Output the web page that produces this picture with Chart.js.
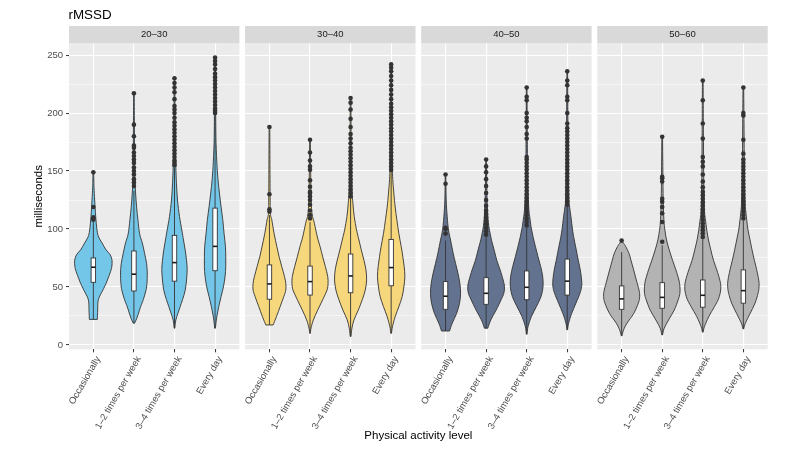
<!DOCTYPE html>
<html>
<head>
<meta charset="utf-8">
<script src="https://cdn.jsdelivr.net/npm/chart.js@4"></script>
<style>
  html, body { margin: 0; padding: 0; background: #fff; }
  #wrap { width: 799px; height: 454px; }
</style>
</head>
<body>
<div id="wrap"><canvas id="rmssdChart" width="799" height="454"></canvas></div>
<script>
// facets and categories
var ageGroups = ['20–30', '30–40', '40–50', '50–60'];
var activityLevels = ['Occasionally', '1–2 times per week', '3–4 times per week', 'Every day'];

// box plot stats per age group, one value per activity level
var lowerWhisker = [[22, 18.7, 14.4, 14.4], [17.2, 10, 7.2, 10], [12, 14.4, 9.2, 13], [7.8, 8.6, 11, 13.8]];
var quartile1 = [[54, 46.5, 55, 64], [39.4, 43, 45, 51], [30.7, 35, 39, 43], [30.7, 31.6, 32.5, 36]];
var medians = [[67, 61, 71, 85], [52.6, 54.6, 59.5, 66.7], [42, 44.5, 49.7, 55], [39.7, 41, 42.8, 46.8]];
var quartile3 = [[75, 81, 94.5, 118], [69, 68, 78.4, 91], [54.6, 58, 63.8, 74], [50.9, 53.7, 56, 64.7]];
var upperWhisker = [[106, 133, 153, 199], [112, 106, 127, 150], [90, 93, 101, 120], [80, 86, 91, 107]];

// outliers (milliseconds)
var outliers = [
  [
    [108, 109, 110, 119, 149],
    [137, 140, 143, 147, 150, 153, 157, 160, 163, 166, 170, 172, 180, 190, 217],
    [155, 157, 159, 162, 165, 168, 171, 174, 177, 180, 183, 186, 189, 192, 196, 200, 203, 206, 212, 218, 222, 226, 230],
    [200, 202, 204, 207, 210, 213, 216, 219, 222, 225, 228, 231, 234, 238, 242, 245, 248]
  ],
  [
    [115, 117, 130, 188],
    [109, 112, 116, 121, 125, 128, 131, 132, 136.5, 142, 151, 154, 159, 166, 177],
    [128, 131, 134, 137, 140, 143, 146, 149, 152, 155, 158, 161, 164, 167, 170, 174, 178, 182, 188, 195, 203, 209, 213],
    [151, 154, 157, 160, 163, 166, 169, 172, 175, 178, 181, 184, 187, 190, 193, 196, 199, 202, 205, 208, 212, 216, 220, 224, 228, 232, 236, 239, 242]
  ],
  [
    [96, 100, 101, 139, 147],
    [95, 98, 101, 104, 107, 110, 113, 116, 120, 125, 131, 137, 143, 149, 154, 160],
    [103, 106, 109, 112, 115, 118, 121, 124, 127, 130, 133, 136, 139, 142, 145, 148, 151, 154, 157, 160, 162, 178, 182, 188, 193, 196, 200, 211, 214, 222],
    [121, 124, 127, 130, 133, 136, 139, 142, 145, 148, 151, 154, 157, 160, 163, 166, 169, 172, 175, 178, 181, 184, 187, 191, 200, 211, 214, 224, 228, 236]
  ],
  [
    [90],
    [89, 106, 113.5, 119, 123.6, 126, 141, 143.7, 145, 179.6],
    [93, 96, 99, 102, 105, 108, 111, 114, 117, 120, 123, 126, 129, 132, 136, 141, 147, 154, 158, 162, 178, 191, 211, 228],
    [109, 112, 115, 118, 121, 124, 127, 130, 133, 136, 139, 142, 145, 148, 151, 154, 157, 160, 165, 177, 198, 200, 222]
  ]
];

// violin density profiles: [milliseconds, relative density]
var densities = [
  [
    [[22, 12], [30, 13], [39, 15], [47, 28], [53, 38], [62, 50], [67, 55], [73, 56], [78, 50], [82, 38], [88, 26], [93, 16], [99, 11], [111, 7], [125, 4], [136, 2], [149, 1]],
    [[18.7, 2], [24, 10], [33, 20], [39, 28], [47, 36], [53, 39], [62, 40], [70, 38], [79, 32], [88, 25], [96, 17], [108, 12], [119, 8], [131, 5], [142, 3], [160, 2], [217, 1]],
    [[14.4, 1], [21.5, 4], [27, 10], [33, 17], [39, 24], [47, 32], [56, 36], [65, 38], [73, 36], [82, 32], [90.5, 27], [99, 22], [110.6, 15], [125, 9], [139, 6], [154, 4], [180, 2], [230, 1]],
    [[14.4, 1], [24, 5], [33, 11], [41.7, 18], [50, 25], [59, 30], [67.5, 32], [76, 32], [85, 31], [96, 27], [108, 23], [119, 18], [131, 13], [142, 9], [154, 6], [174, 3], [197, 2], [248, 1]]
  ],
  [
    [[17.2, 11], [24.4, 21], [33, 32], [41.7, 43], [47.4, 49], [53, 49], [59, 45], [67.5, 37], [76, 29], [85, 22], [96, 14], [108, 7], [113.5, 3], [130, 2], [188, 1]],
    [[10, 1], [14.4, 3], [21.5, 10], [30, 23], [39, 38], [47.4, 51], [53, 54], [59, 53], [67.5, 46], [76, 38], [85, 30], [93, 22], [105, 13], [113.5, 6], [130, 3], [177, 1]],
    [[7.2, 1], [14.4, 4], [21.5, 10], [30, 23], [39, 35], [47.4, 44], [56, 48], [64.7, 46], [73, 40], [82, 32], [90.5, 25], [99, 18], [110.6, 11], [122, 7], [135, 4], [160, 2], [213, 1]],
    [[10, 1], [15.8, 4], [24.4, 12], [33, 23], [41.7, 33], [50, 38], [59, 41], [67.5, 39], [76, 35], [85, 30], [96, 23], [108, 17], [119, 12], [131, 8], [148, 4], [180, 2], [242, 1]]
  ],
  [
    [[12, 12], [18.7, 20], [27, 33], [36, 42], [44.5, 45], [53, 43], [62, 37], [70.4, 30], [79, 23], [90.5, 15], [99, 9], [110.6, 5], [125, 2], [147, 1]],
    [[14.4, 5], [21.5, 14], [30, 30], [39, 45], [44.5, 53], [50.3, 55], [56, 51], [64.7, 42], [73, 32], [82, 24], [90.5, 16], [99, 10], [108, 6], [125, 3], [160, 1]],
    [[9.2, 1], [15.8, 4], [24.4, 14], [33, 29], [41.7, 43], [50.3, 49], [59, 48], [67.5, 42], [76, 34], [85, 26], [93.4, 19], [102, 13], [110.6, 9], [119, 6], [140, 3], [170, 2], [222, 1]],
    [[13, 1], [18.7, 4], [27, 13], [36, 26], [44.5, 38], [50.3, 43], [56, 43], [64.7, 39], [73, 33], [82, 27], [90.5, 21], [99, 16], [110.6, 11], [119, 7], [125, 5], [150, 3], [190, 2], [236, 1]]
  ],
  [
    [[7.8, 1], [13, 6], [18.7, 16], [27, 36], [36, 50], [41.7, 54], [47.4, 52], [56, 44], [64.7, 36], [73, 28], [79, 22], [85, 12], [88, 5], [90, 1]],
    [[8.6, 1], [14.4, 6], [21.5, 19], [30, 36], [39, 48], [44.5, 53], [50.3, 53], [56, 50], [64.7, 41], [73, 31], [82, 21], [90.5, 13], [99, 8], [108, 5], [125, 3], [150, 2], [180, 1]],
    [[11, 1], [15.8, 5], [24.4, 18], [33, 35], [39, 46], [44.5, 52], [50.3, 54], [56, 51], [64.7, 42], [73, 32], [82, 24], [90.5, 17], [99, 12], [108, 8], [116, 5], [140, 3], [180, 2], [228, 1]],
    [[13.8, 1], [18.7, 6], [27, 20], [36, 35], [44.5, 44], [50.3, 47], [56, 46], [64.7, 40], [73, 33], [82, 26], [90.5, 20], [99, 14], [108, 10], [116, 7], [125, 5], [150, 3], [190, 2], [222, 1]]
  ]
];

var yTicks = [0, 50, 100, 150, 200, 250];

// layout of the facets in x units (one unit = one category step)
var PANEL_STEP = 4.34;
var EXPAND = 0.6;
var DENSITY_TO_X = 1 / 121.5;
var BOX_HALF = 0.055;
var fills = ['#74C6E8', '#F6D77C', '#62728F', '#B3B3B3'];
var INK = '#333333';

Chart.defaults.font.family = '"Liberation Sans", Arial, sans-serif';

function catX(p, c) { return p * PANEL_STEP + c; }

var tickPositions = [];
var outlierPoints = [];
ageGroups.forEach(function (g, p) {
  activityLevels.forEach(function (a, c) {
    tickPositions.push(catX(p, c));
    outliers[p][c].forEach(function (v) { outlierPoints.push({ x: catX(p, c), y: v }); });
  });
});

function smoothTo(ctx, pts) {
  for (var i = 0; i < pts.length - 1; i++) {
    var p0 = pts[i - 1] || pts[i], p1 = pts[i], p2 = pts[i + 1], p3 = pts[i + 2] || p2;
    ctx.bezierCurveTo(p1.x + (p2.x - p0.x) / 6, p1.y + (p2.y - p0.y) / 6,
      p2.x - (p3.x - p1.x) / 6, p2.y - (p3.y - p1.y) / 6, p2.x, p2.y);
  }
}

var facetPlugin = {
  id: 'facets',
  beforeDraw: function (chart) {
    var ctx = chart.ctx, area = chart.chartArea, xs = chart.scales.x;
    ctx.save();
    ctx.fillStyle = '#000';
    ctx.font = '13.4px "Liberation Sans", Arial, sans-serif';
    ctx.textAlign = 'left';
    ctx.textBaseline = 'alphabetic';
    ctx.fillText('rMSSD', area.left - 0.5, 18.5);
    ageGroups.forEach(function (g, p) {
      var x0 = xs.getPixelForValue(catX(p, 0) - EXPAND);
      var x1 = xs.getPixelForValue(catX(p, 3) + EXPAND);
      ctx.fillStyle = '#EBEBEB';
      ctx.fillRect(x0, area.top, x1 - x0, area.bottom - area.top);
      ctx.fillStyle = '#D9D9D9';
      ctx.fillRect(x0, area.top - 17.3, x1 - x0, 17.3);
      ctx.fillStyle = '#1A1A1A';
      ctx.font = '9.5px "Liberation Sans", Arial, sans-serif';
      ctx.textAlign = 'center';
      ctx.textBaseline = 'middle';
      ctx.fillText(g, (x0 + x1) / 2, area.top - 8.6);
    });
    ctx.restore();
  },
  beforeDatasetsDraw: function (chart) {
    var ctx = chart.ctx, xs = chart.scales.x, ys = chart.scales.y;
    ctx.save();
    ageGroups.forEach(function (g, p) {
      activityLevels.forEach(function (a, c) {
        var cx = catX(p, c);
        var prof = densities[p][c];
        var right = prof.map(function (d) { return { x: xs.getPixelForValue(cx + d[1] * DENSITY_TO_X), y: ys.getPixelForValue(d[0]) }; });
        var left = prof.map(function (d) { return { x: xs.getPixelForValue(cx - d[1] * DENSITY_TO_X), y: ys.getPixelForValue(d[0]) }; }).reverse();
        ctx.beginPath();
        ctx.moveTo(right[0].x, right[0].y);
        smoothTo(ctx, right);
        ctx.lineTo(left[0].x, left[0].y);
        smoothTo(ctx, left);
        ctx.closePath();
        ctx.fillStyle = fills[p];
        ctx.fill();
        ctx.lineWidth = 0.9;
        ctx.strokeStyle = INK;
        ctx.stroke();

        var px = xs.getPixelForValue(cx);
        var bl = xs.getPixelForValue(cx - BOX_HALF), br = xs.getPixelForValue(cx + BOX_HALF);
        var yq1 = ys.getPixelForValue(quartile1[p][c]), yq3 = ys.getPixelForValue(quartile3[p][c]);
        ctx.lineWidth = 0.9;
        ctx.beginPath();
        ctx.moveTo(px, ys.getPixelForValue(lowerWhisker[p][c]));
        ctx.lineTo(px, yq1);
        ctx.moveTo(px, yq3);
        ctx.lineTo(px, ys.getPixelForValue(upperWhisker[p][c]));
        ctx.stroke();
        ctx.fillStyle = '#FFFFFF';
        ctx.fillRect(bl, yq3, br - bl, yq1 - yq3);
        ctx.strokeRect(bl, yq3, br - bl, yq1 - yq3);
        var ym = ys.getPixelForValue(medians[p][c]);
        ctx.lineWidth = 1.6;
        ctx.strokeStyle = '#1A1A1A';
        ctx.beginPath();
        ctx.moveTo(bl, ym);
        ctx.lineTo(br, ym);
        ctx.stroke();
      });
    });
    ctx.restore();
  }
};

var ctx = document.getElementById('rmssdChart').getContext('2d');
var rmssdChart = new Chart(ctx, {
  type: 'scatter',
  data: {
    datasets: [{
      label: 'outliers',
      data: outlierPoints,
      backgroundColor: INK,
      borderWidth: 0,
      pointRadius: 2.3
    }]
  },
  options: {
    responsive: false,
    animation: false,
    events: [],
    layout: { padding: { left: 32, right: 31.3, top: 43.3, bottom: 11 } },
    plugins: {
      legend: { display: false },
      tooltip: { enabled: false }
    },
    scales: {
      x: {
        type: 'linear',
        min: -EXPAND,
        max: catX(3, 3) + EXPAND,
        afterBuildTicks: function (scale) {
          scale.ticks = tickPositions.map(function (v) { return { value: v }; });
        },
        afterFit: function (scale) { scale.height = 93.7; },
        grid: { color: '#FFFFFF', lineWidth: 1.1, tickColor: INK, tickLength: 3, tickWidth: 1 },
        border: { display: false },
        ticks: {
          autoSkip: false,
          minRotation: 60,
          maxRotation: 60,
          padding: 2,
          labelOffset: 5,
          color: '#4D4D4D',
          font: { size: 9.5 },
          callback: function (value, index) { return activityLevels[index % 4]; }
        },
        title: { display: true, text: 'Physical activity level', color: '#000', font: { size: 11.5 }, padding: 0 }
      },
      y: {
        min: -3.8,
        max: 260.2,
        afterBuildTicks: function (scale) {
          var t = [];
          for (var v = 0; v <= 250; v += 25) t.push({ value: v });
          scale.ticks = t;
        },
        afterFit: function (scale) { scale.width = 37; },
        grid: {
          color: '#FFFFFF',
          lineWidth: function (c) { return c.tick && yTicks.indexOf(c.tick.value) >= 0 ? 1.1 : 0.55; },
          tickColor: function (c) { return c.tick && yTicks.indexOf(c.tick.value) >= 0 ? INK : 'rgba(0,0,0,0)'; },
          tickLength: 3,
          tickWidth: 1
        },
        border: { display: false },
        ticks: {
          padding: 3,
          color: '#4D4D4D',
          font: { size: 9.5 },
          callback: function (value) { return yTicks.indexOf(value) >= 0 ? String(value) : ''; }
        },
        title: { display: true, text: 'milliseconds', color: '#000', font: { size: 11.5 }, padding: 0 }
      }
    }
  },
  plugins: [facetPlugin]
});
</script>
</body>
</html>
